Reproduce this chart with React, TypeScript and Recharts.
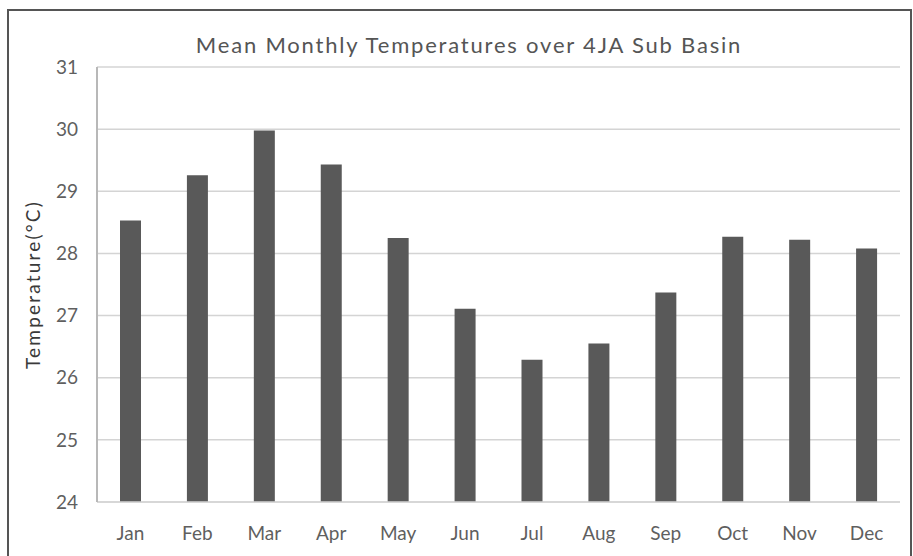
import React from 'react';
import { BarChart, Bar, XAxis, YAxis, CartesianGrid } from 'recharts';

const months = ['Jan', 'Feb', 'Mar', 'Apr', 'May', 'Jun', 'Jul', 'Aug', 'Sep', 'Oct', 'Nov', 'Dec'];
const meanTemp = [28.53, 29.26, 29.98, 29.43, 28.25, 27.11, 26.29, 26.55, 27.37, 28.27, 28.22, 28.08];
const yTicks = [24, 25, 26, 27, 28, 29, 30, 31];

const title = 'Mean Monthly Temperatures over 4JA Sub Basin';
const yLabel = 'Temperature(\u00B0C)';

const font = 'Lato, "Open Sans", sans-serif';
const textColor = '#5f5f5f';

export default function App() {
  let data = [];
  for (var i = 0; i < months.length; i++) {
    data.push({ name: months[i], temp: meanTemp[i] });
  }

  return (
    <div style={{ position: 'fixed', left: 0, top: 0, width: 913, height: 556, background: '#fff', fontFamily: font }}>
      <div style={{ position: 'absolute', left: 7, top: 9, width: 905, height: 560, border: '2px solid #555', boxSizing: 'border-box' }} />
      <div style={{ position: 'absolute', left: 0, width: 938, top: 34, lineHeight: '22px', textAlign: 'center', fontSize: 22, letterSpacing: 1.8, color: '#555' }}>
        {title}
      </div>
      <div style={{ position: 'absolute', left: 0, top: 0 }}>
        <BarChart width={913} height={556} data={data} margin={{ top: 67, right: 13, left: 0, bottom: 0 }}>
          <CartesianGrid vertical={false} stroke="#d4d4d4" strokeWidth={1.5} />
          <XAxis
            dataKey="name"
            height={54}
            tickLine={false}
            tickSize={0}
            tickMargin={25}
            axisLine={{ stroke: '#d4d4d4', strokeWidth: 1.5 }}
            tick={{ fill: textColor, fontSize: 19, fontFamily: font }}
          />
          <YAxis
            width={97}
            domain={[24, 31]}
            ticks={yTicks}
            interval={0}
            tickLine={false}
            tickSize={0}
            tickMargin={19}
            axisLine={{ stroke: '#b8b8b8', strokeWidth: 2 }}
            tick={{ fill: textColor, fontSize: 19, fontFamily: font }}
            label={{ value: yLabel, angle: -90, position: 'insideLeft', offset: 33, style: { textAnchor: 'middle', fill: '#3a3a3a', fontSize: 19, letterSpacing: 2.2, fontFamily: font } }}
          />
          <YAxis
            yAxisId="frame"
            orientation="right"
            width={0}
            tick={false}
            tickLine={false}
            axisLine={{ stroke: '#b8b8b8', strokeWidth: 1.5 }}
          />
          <Bar dataKey="temp" fill="#595959" barSize={21} isAnimationActive={false} />
        </BarChart>
      </div>
    </div>
  );
}
